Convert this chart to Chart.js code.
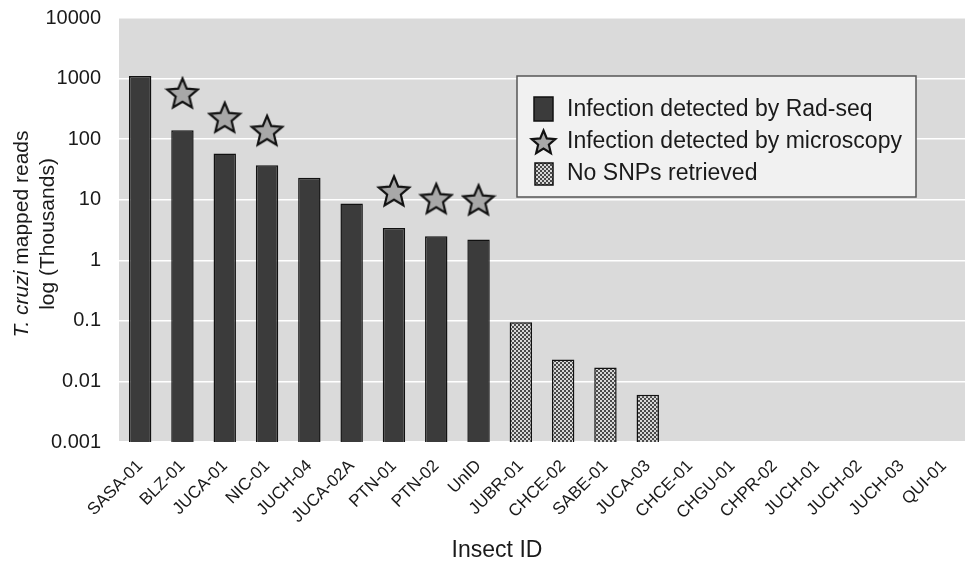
<!DOCTYPE html>
<html>
<head>
<meta charset="utf-8">
<script src="https://cdn.jsdelivr.net/npm/chart.js@4.4.0/dist/chart.umd.min.js"></script>
<style>
  html, body { margin: 0; padding: 0; background: #fff; }
  #wrap { width: 967px; height: 563px; }
</style>
</head>
<body>
<div id="wrap"><canvas id="chart" width="967" height="563"></canvas></div>
<script>
// データ
const insectIds = ["SASA-01", "BLZ-01", "JUCA-01", "NIC-01", "JUCH-04", "JUCA-02A", "PTN-01", "PTN-02", "UnID",
  "JUBR-01", "CHCE-02", "SABE-01", "JUCA-03", "CHCE-01", "CHGU-01", "CHPR-02", "JUCH-01", "JUCH-02", "JUCH-03", "QUI-01"];
const radseqReads = [1100, 140, 58, 37, 23, 8.7, 3.4, 2.5, 2.2, null, null, null, null, null, null, null, null, null, null, null];
const noSnpReads = [null, null, null, null, null, null, null, null, null, 0.095, 0.023, 0.017, 0.006, null, null, null, null, null, null, null];
const microscopyMarks = [null, 580, 230, 140, null, null, 14, 10.5, 10, null, null, null, null, null, null, null, null, null, null, null];
const yTicks = [0.001, 0.01, 0.1, 1, 10, 100, 1000, 10000];
const legendLabels = ["Infection detected by Rad-seq", "Infection detected by microscopy", "No SNPs retrieved"];

const FONT = "'Liberation Sans', Arial, sans-serif";
const BAR_COLOR = "#3b3b3b";

// 星形のマーカー
function makeStar(size) {
  const c = document.createElement("canvas");
  c.width = c.height = size;
  const g = c.getContext("2d");
  const cx = size / 2, cy = size / 2 + 1.5;
  const R = size / 2 - 2, r = R * 0.45;
  g.beginPath();
  for (let i = 0; i < 10; i++) {
    const ang = -Math.PI / 2 + i * Math.PI / 5;
    const rad = i % 2 ? r : R;
    g.lineTo(cx + rad * Math.cos(ang), cy + rad * Math.sin(ang));
  }
  g.closePath();
  g.fillStyle = "#a8a8a8";
  g.fill();
  g.lineWidth = 2.2;
  g.strokeStyle = "#111";
  g.stroke();
  return c;
}

// 市松模様のパターン
function makeChecker() {
  const t = document.createElement("canvas");
  t.width = t.height = 4;
  const g = t.getContext("2d");
  g.fillStyle = "#4a4a4a";
  g.fillRect(0, 0, 4, 4);
  g.fillStyle = "#d8d8d8";
  g.fillRect(0, 0, 2, 2);
  g.fillRect(2, 2, 2, 2);
  return document.getElementById("chart").getContext("2d").createPattern(t, "repeat");
}

const starBig = makeStar(36);
const starSmall = makeStar(29);
const checker = makeChecker();

// プロット背景
const plotBackground = {
  id: "plotBackground",
  beforeDraw(chart) {
    const { ctx, chartArea: a } = chart;
    ctx.save();
    ctx.fillStyle = "#dadada";
    ctx.fillRect(a.left, a.top, a.right - a.left, a.bottom - a.top);
    ctx.restore();
  }
};

// 軸タイトルと凡例
const annotations = {
  id: "annotations",
  afterDraw(chart) {
    const ctx = chart.ctx;
    ctx.save();
    ctx.fillStyle = "#1a1a1a";
    ctx.textBaseline = "middle";

    // y軸タイトル (T. cruzi はイタリック)
    ctx.save();
    ctx.translate(22, 234);
    ctx.rotate(-Math.PI / 2);
    const italic = "italic 21px " + FONT;
    const normal = "21px " + FONT;
    ctx.font = italic;
    const w1 = ctx.measureText("T. cruzi").width;
    ctx.font = normal;
    const w2 = ctx.measureText(" mapped reads").width;
    const x0 = -(w1 + w2) / 2;
    ctx.textAlign = "left";
    ctx.font = italic;
    ctx.fillText("T. cruzi", x0, 0);
    ctx.font = normal;
    ctx.fillText(" mapped reads", x0 + w1, 0);
    ctx.textAlign = "center";
    ctx.fillText("log (Thousands)", 0, 26);
    ctx.restore();

    // x軸タイトル
    ctx.font = "23px " + FONT;
    ctx.textAlign = "center";
    ctx.fillText("Insect ID", 497, 551);

    // 凡例
    const bx = 517, by = 76, bw = 399, bh = 121;
    ctx.fillStyle = "#f1f1f1";
    ctx.fillRect(bx, by, bw, bh);
    ctx.strokeStyle = "#555";
    ctx.lineWidth = 1.5;
    ctx.strokeRect(bx, by, bw, bh);

    ctx.strokeStyle = "#111";
    ctx.fillStyle = BAR_COLOR;
    ctx.fillRect(534, 97, 19, 24);
    ctx.strokeRect(534, 97, 19, 24);
    ctx.drawImage(starSmall, 529, 127);
    ctx.fillStyle = checker;
    ctx.fillRect(535, 163, 18, 22);
    ctx.strokeRect(535, 163, 18, 22);

    ctx.fillStyle = "#1a1a1a";
    ctx.font = "23px " + FONT;
    ctx.textAlign = "left";
    ctx.fillText(legendLabels[0], 567, 110);
    ctx.fillText(legendLabels[1], 567, 142);
    ctx.fillText(legendLabels[2], 567, 174);
    ctx.restore();
  }
};

new Chart(document.getElementById("chart"), {
  data: {
    labels: insectIds,
    datasets: [
      {
        type: "line",
        label: legendLabels[1],
        data: microscopyMarks,
        showLine: false,
        pointStyle: starBig,
        pointRadius: 18,
        order: 0
      },
      {
        type: "bar",
        label: legendLabels[0],
        data: radseqReads,
        backgroundColor: BAR_COLOR,
        borderColor: "#111",
        borderWidth: 1.5,
        grouped: false,
        barPercentage: 0.53,
        categoryPercentage: 1,
        order: 1
      },
      {
        type: "bar",
        label: legendLabels[2],
        data: noSnpReads,
        backgroundColor: checker,
        borderColor: "#111",
        borderWidth: 1.5,
        grouped: false,
        barPercentage: 0.53,
        categoryPercentage: 1,
        order: 1
      }
    ]
  },
  options: {
    responsive: false,
    animation: false,
    layout: { autoPadding: false, padding: { top: 18, right: 2, left: 0, bottom: 0 } },
    plugins: {
      legend: { display: false },
      tooltip: { enabled: false }
    },
    scales: {
      x: {
        grid: { display: false, drawTicks: false },
        border: { display: false },
        ticks: {
          color: "#1a1a1a",
          font: { family: FONT, size: 17 },
          minRotation: 45,
          maxRotation: 45,
          padding: 14,
          autoSkip: false
        },
        afterFit(scale) {
          scale.height = 121;
          scale.paddingLeft = 0;
          scale.paddingRight = 0;
        }
      },
      y: {
        type: "logarithmic",
        min: 0.001,
        max: 10000,
        grid: { color: "#ffffff", lineWidth: 1.5, drawTicks: false },
        border: { display: false },
        ticks: {
          color: "#1a1a1a",
          font: { family: FONT, size: 20 },
          padding: 18,
          callback: (v) => String(v)
        },
        afterBuildTicks(scale) { scale.ticks = yTicks.map((v) => ({ value: v })); },
        afterFit(scale) {
          scale.width = 119;
          scale.paddingTop = 0;
          scale.paddingBottom = 0;
        }
      }
    }
  },
  plugins: [plotBackground, annotations]
});
</script>
</body>
</html>
